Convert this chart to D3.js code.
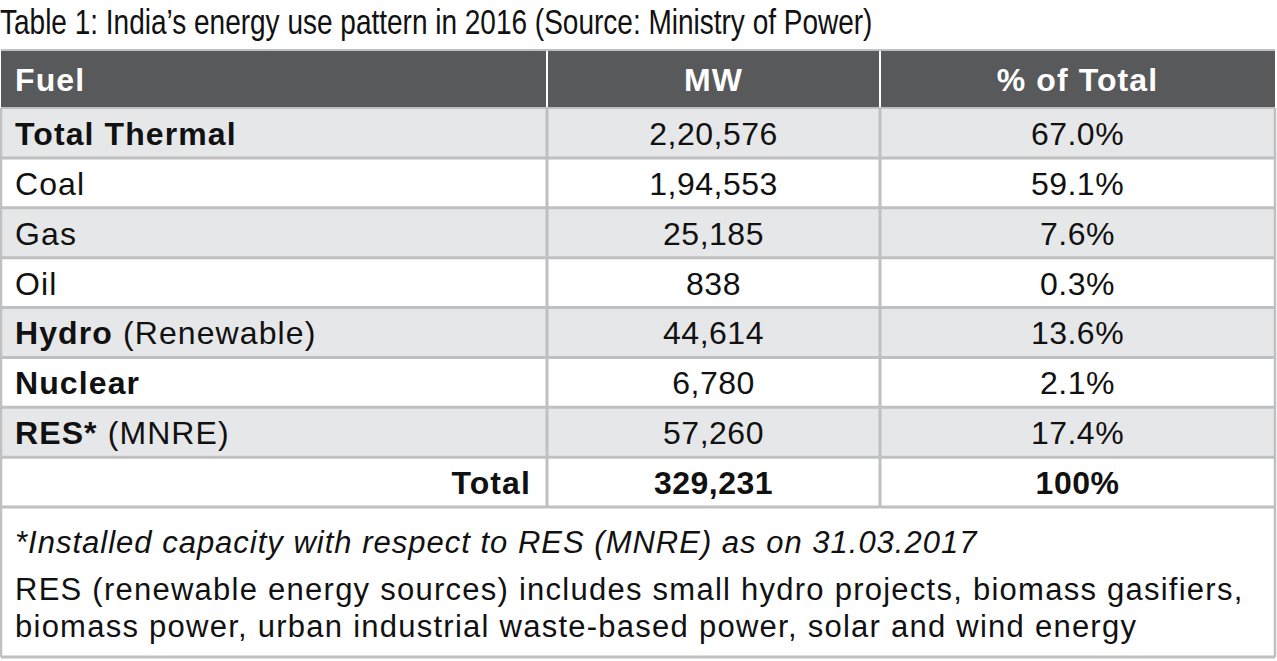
<!DOCTYPE html>
<html>
<head>
<meta charset="utf-8">
<script src="https://cdn.jsdelivr.net/npm/d3@7"></script>
<style>
  body { margin:0; background:#fff; }
  svg text { font-family: "Liberation Sans", Arial, sans-serif; }
</style>
</head>
<body>
<svg id="chart"></svg>
<script>
// table content
var titleText = "Table 1: India\u2019s energy use pattern in 2016 (Source: Ministry of Power)"
var headers = ["Fuel", "MW", "% of Total"]
var fuels = ["Total Thermal", "Coal", "Gas", "Oil", "Hydro", "Nuclear", "RES*", "Total"]
var fuelNotes = ["", "", "", "", "(Renewable)", "", "(MNRE)", ""]
var boldFuel = [true, false, false, false, true, true, true, true]
var mwLabels = ["2,20,576", "1,94,553", "25,185", "838", "44,614", "6,780", "57,260", "329,231"]
var pctLabels = ["67.0%", "59.1%", "7.6%", "0.3%", "13.6%", "2.1%", "17.4%", "100%"]
var footnotes = [
    "*Installed capacity with respect to RES (MNRE) as on 31.03.2017",
    "RES (renewable energy sources) includes small hydro projects, biomass gasifiers,",
    "biomass power, urban industrial waste-based power, solar and wind energy"
]

var mainCode = function(){
    var screen = {width:1277, height:661}
    //edges of the table pieces
    var table = {left:1, right:1275, top:50, headBottom:108, bodyBottom:507, bottom:657}
    var colEdges = [table.left, 547, 880, table.right]
    var lineColor = "#bfc0c2"
    var fontSize = 32

    var svg = d3.select("#chart")
        .attr("width", screen.width)
        .attr("height", screen.height)

    //one band per row, total row included
    var yScale = d3.scaleBand()
        .domain(fuels)
        .range([table.headBottom, table.bodyBottom])

    var xScale = d3.scaleOrdinal()
        .domain(headers)
        .range([0, 1, 2])

    var colLeft = function(h){ return colEdges[xScale(h)] }
    var colRight = function(h){ return colEdges[xScale(h) + 1] }
    var colMid = function(h){ return (colLeft(h) + colRight(h)) / 2 }

    //title, squeezed since no narrow font is around
    svg.append("text")
        .attr("transform", "translate(0,34) scale(0.8,1)")
        .attr("font-size", 35)
        .attr("fill", "#111")
        .text(titleText)

    //header band
    svg.append("rect")
        .attr("x", table.left).attr("y", table.top)
        .attr("width", table.right - table.left)
        .attr("height", table.headBottom - table.top)
        .attr("fill", "#58595b")

    svg.append("line")
        .attr("x1", table.left).attr("x2", table.right)
        .attr("y1", table.top).attr("y2", table.top)
        .attr("stroke", lineColor).attr("stroke-width", 2)

    //white dividers inside the header
    svg.selectAll(".headDiv")
        .data(headers.slice(1))
        .enter()
        .append("line")
        .attr("class", "headDiv")
        .attr("x1", colLeft).attr("x2", colLeft)
        .attr("y1", table.top + 1).attr("y2", table.headBottom)
        .attr("stroke", "#fff").attr("stroke-width", 2)

    svg.selectAll(".headText")
        .data(headers)
        .enter()
        .append("text")
        .attr("class", "headText")
        .attr("x", function(h,i){ return i == 0 ? colLeft(h) + 14 : colMid(h) })
        .attr("y", 91)
        .attr("text-anchor", function(h,i){ return i == 0 ? "start" : "middle" })
        .attr("font-size", fontSize)
        .attr("font-weight", "bold")
        .attr("letter-spacing", 1.1)
        .attr("fill", "#fff")
        .text(function(h){ return h })

    //row shading, every other row grey
    svg.selectAll(".rowBg")
        .data(fuels)
        .enter()
        .append("rect")
        .attr("class", "rowBg")
        .attr("x", table.left)
        .attr("y", function(f){ return yScale(f) })
        .attr("width", table.right - table.left)
        .attr("height", yScale.bandwidth())
        .attr("fill", function(f,i){ return i % 2 == 0 ? "#e6e7e8" : "#fff" })

    //row lines
    svg.selectAll(".rowLine")
        .data(fuels)
        .enter()
        .append("line")
        .attr("class", "rowLine")
        .attr("x1", table.left).attr("x2", table.right)
        .attr("y1", function(f){ return yScale(f) + yScale.bandwidth() })
        .attr("y2", function(f){ return yScale(f) + yScale.bandwidth() })
        .attr("stroke", lineColor).attr("stroke-width", 3)

    svg.append("line")
        .attr("x1", table.left).attr("x2", table.right)
        .attr("y1", table.headBottom).attr("y2", table.headBottom)
        .attr("stroke", lineColor).attr("stroke-width", 2)

    //column dividers in the body
    svg.selectAll(".colLine")
        .data(headers.slice(1))
        .enter()
        .append("line")
        .attr("class", "colLine")
        .attr("x1", colLeft).attr("x2", colLeft)
        .attr("y1", table.headBottom).attr("y2", table.bodyBottom)
        .attr("stroke", lineColor).attr("stroke-width", 3)

    //outer sides
    svg.selectAll(".side")
        .data([table.left, table.right])
        .enter()
        .append("line")
        .attr("class", "side")
        .attr("x1", function(d){ return d }).attr("x2", function(d){ return d })
        .attr("y1", table.headBottom).attr("y2", table.bottom)
        .attr("stroke", lineColor).attr("stroke-width", 2.5)

    svg.append("line")
        .attr("x1", table.left).attr("x2", table.right)
        .attr("y1", table.bottom).attr("y2", table.bottom)
        .attr("stroke", lineColor).attr("stroke-width", 3)

    //fuel names
    var isTotal = function(f){ return f == "Total" }
    var baseY = function(f){ return yScale(f) + yScale.bandwidth() / 2 + 12 }

    var names = svg.selectAll(".fuel")
        .data(fuels)
        .enter()
        .append("text")
        .attr("class", "fuel")
        .attr("x", function(f){ return isTotal(f) ? colRight("Fuel") - 16 : colLeft("Fuel") + 14 })
        .attr("y", baseY)
        .attr("text-anchor", function(f){ return isTotal(f) ? "end" : "start" })
        .attr("font-size", fontSize)
        .attr("letter-spacing", 1.1)
        .attr("fill", "#111")

    names.append("tspan")
        .attr("font-weight", function(f,i){ return boldFuel[i] ? "bold" : "normal" })
        .text(function(f){ return f })

    names.append("tspan")
        .text(function(f,i){ return fuelNotes[i] ? " " + fuelNotes[i] : "" })

    //MW column
    svg.selectAll(".mw")
        .data(fuels)
        .enter()
        .append("text")
        .attr("class", "mw")
        .attr("x", colMid("MW"))
        .attr("y", baseY)
        .attr("text-anchor", "middle")
        .attr("font-size", fontSize)
        .attr("letter-spacing", 0.5)
        .attr("font-weight", function(f){ return isTotal(f) ? "bold" : "normal" })
        .attr("fill", "#111")
        .text(function(f,i){ return mwLabels[i] })

    //percent column
    svg.selectAll(".pct")
        .data(fuels)
        .enter()
        .append("text")
        .attr("class", "pct")
        .attr("x", colMid("% of Total"))
        .attr("y", baseY)
        .attr("text-anchor", "middle")
        .attr("font-size", fontSize)
        .attr("letter-spacing", 0.5)
        .attr("font-weight", function(f){ return isTotal(f) ? "bold" : "normal" })
        .attr("fill", "#111")
        .text(function(f,i){ return pctLabels[i] })

    //notes under the table
    var noteY = [553, 600, 637]
    svg.selectAll(".note")
        .data(footnotes)
        .enter()
        .append("text")
        .attr("class", "note")
        .attr("x", 15)
        .attr("y", function(d,i){ return noteY[i] })
        .attr("font-size", 31)
        .attr("letter-spacing", function(d,i){ return i == 0 ? 1 : 1.25 })
        .attr("font-style", function(d,i){ return i == 0 ? "italic" : "normal" })
        .attr("fill", "#111")
        .text(function(d){ return d })
}

mainCode()
</script>
</body>
</html>
